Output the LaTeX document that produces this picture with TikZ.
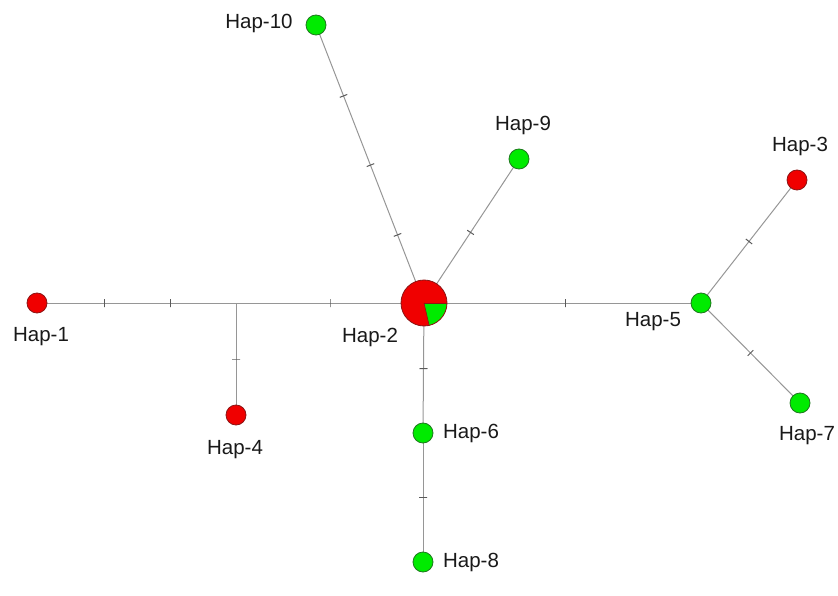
\documentclass[tikz,border=0pt]{standalone}
\usepackage{fontspec}
\setmainfont{Liberation Sans}
\usetikzlibrary{backgrounds}
\definecolor{hred}{RGB}{240,0,0}
\definecolor{hredline}{RGB}{140,20,20}
\definecolor{hgreen}{RGB}{0,235,0}
\definecolor{hgreenline}{RGB}{30,120,30}
\definecolor{edgegray}{RGB}{150,150,150}
\definecolor{tickgray}{RGB}{90,90,90}
\definecolor{labeltext}{RGB}{25,25,25}
\begin{document}
\begin{tikzpicture}[x=1pt,y=-1pt,
  redhap/.style={circle,fill=hred,draw=hredline,line width=0.8pt,minimum size=20pt,inner sep=0pt},
  greenhap/.style={circle,fill=hgreen,draw=hgreenline,line width=0.8pt,minimum size=20pt,inner sep=0pt},
  bighap/.style={circle,minimum size=46pt,inner sep=0pt},
  link/.style={draw=edgegray,line width=1pt},
  tickmark/.style={sloped,draw=tickgray,line width=1pt,minimum width=0pt,minimum height=8pt,inner sep=0pt,shape=rectangle},
  lab/.style={text=labeltext,font=\fontsize{20.5}{24}\selectfont,inner sep=0pt}]
\useasboundingbox (0,0) rectangle (838,596);
% haplotype nodes
\node[redhap] (h1) at (37,303) {};
\node[bighap] (h2) at (424,303) {};
\node[redhap] (h3) at (797,180) {};
\node[redhap] (h4) at (236,415) {};
\node[greenhap] (h5) at (701,303) {};
\node[greenhap] (h6) at (423,433) {};
\node[greenhap] (h7) at (800,403) {};
\node[greenhap] (h8) at (423,562) {};
\node[greenhap] (h9) at (519,159) {};
\node[greenhap] (h10) at (316,25) {};
\coordinate (mv) at (236,303);
% pie for Hap-2
\fill[hred] (h2.center) circle (23);
\fill[hgreen] (h2.center) -- ++(0:23) arc[start angle=0,end angle=77,radius=23] -- cycle;
\draw[hredline,line width=0.8pt] (h2.center) circle (23);
\draw[hredline,line width=0.6pt] (h2.center) -- ++(77:23);
\draw[hredline,line width=0.6pt] (h2.center) -- ++(0:23);
% edges
\begin{scope}[on background layer]
\path[link] (h1.center) -- node[tickmark,pos=0.337]{} node[tickmark,pos=0.673]{} (mv);
\path[link] (mv) -- node[tickmark,pos=0.5]{} (h2.center);
\path[link] (mv) -- node[tickmark,pos=0.5]{} (h4.center);
\path[link] (h2.center) -- node[tickmark,pos=0.51]{} (h5.center);
\path[link] (h5.center) -- node[tickmark,pos=0.5]{} (h3.center);
\path[link] (h5.center) -- node[tickmark,pos=0.5]{} (h7.center);
\path[link] (h2.center) -- node[tickmark,pos=0.505]{} (h6.center);
\path[link] (h6.center) -- node[tickmark,pos=0.5]{} (h8.center);
\path[link] (h2.center) -- node[tickmark,pos=0.245]{} node[tickmark,pos=0.496]{} node[tickmark,pos=0.745]{} (h10.center);
\path[link] (h2.center) -- node[tickmark,pos=0.49]{} (h9.center);
\end{scope}
% labels
\node[lab] (l1) at (41,337) {Hap-1};
\node[lab] (l2) at (370,337) {Hap-2};
\node[lab] (l3) at (800,146) {Hap-3};
\node[lab] (l4) at (235,450) {Hap-4};
\node[lab] (l5) at (653,322) {Hap-5};
\node[lab] (l6) at (471,433) {Hap-6};
\node[lab] (l7) at (807,436) {Hap-7};
\node[lab] (l8) at (471,562) {Hap-8};
\node[lab] (l9) at (523,125) {Hap-9};
\node[lab] (l10) at (259,23) {Hap-10};
\end{tikzpicture}
\end{document}
